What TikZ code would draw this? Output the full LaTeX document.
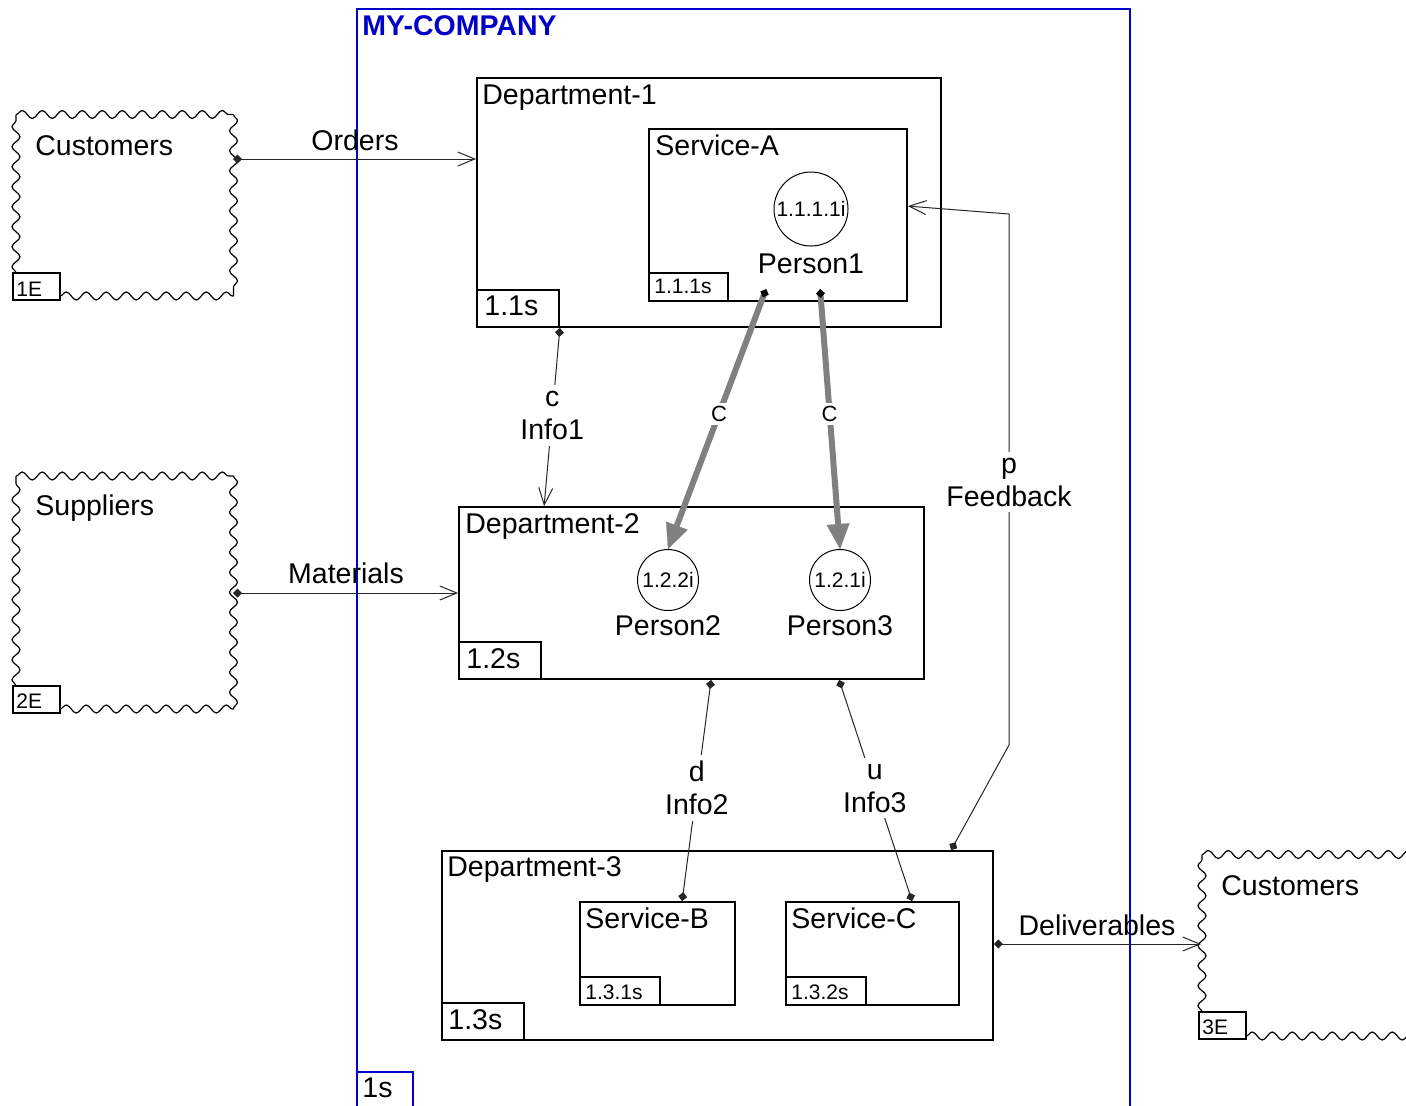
\documentclass[tikz,border=0pt]{standalone}
\usepackage{fontspec}
\setmainfont{Liberation Sans}
\usetikzlibrary{arrows.meta,decorations.pathmorphing,fit,calc}
\definecolor{frameblue}{RGB}{0,0,200}
\definecolor{flowgray}{RGB}{128,128,128}
\tikzset{
  srcdot/.tip={Diamond[length=4.5pt,width=4.5pt]},
  openhead/.tip={Straight Barb[length=8.5pt,width=7pt]},
  fathead/.tip={Triangle[length=12.5pt,width=11.5pt,line width=0.1pt]},
  blackdot/.tip={Diamond[length=4.5pt,width=4.5pt,color=black]},
}
\begin{document}
\begin{tikzpicture}[x=0.5pt,y=-0.5pt,
  big/.style={font=\fontsize{14.25pt}{16.5pt}\selectfont},
  small/.style={font=\fontsize{10.5pt}{12pt}\selectfont},
  txt/.style={big, inner sep=0pt, anchor=base west},
  stxt/.style={small, inner sep=0pt, anchor=base west},
  box/.style={draw=black, line width=0.9pt, inner sep=0pt},
  bluebox/.style={draw=frameblue, line width=0.9pt, inner sep=0pt},
  wavy/.style={draw=black, line width=0.6pt, decorate,
    decoration={snake, segment length=10pt, amplitude=2pt}},
  person/.style={circle, draw=black, line width=0.5pt, inner sep=0pt, small},
  flow/.style={draw=black!85, line width=0.5pt, srcdot-openhead},
  link/.style={draw=black!85, line width=0.5pt, srcdot-srcdot},
  heavy/.style={draw=flowgray, line width=3pt, blackdot-fathead},
  lbl/.style={big, fill=white, align=center, inner sep=3pt},
  clbl/.style={fill=white, inner sep=1.5pt, font=\fontsize{11pt}{13pt}\selectfont},
]
\useasboundingbox (0,0) rectangle (1406,1105);
\clip (0,0) rectangle (1406,1105);

% company frame
\node[bluebox, fit={(357,9) (1130,1110)}] (company) {};
\node[bluebox, fit={(357,1072) (413,1110)}] (t1) {};
\node[txt, font=\fontsize{14.25pt}{16.5pt}\selectfont\bfseries, text=frameblue] (company-t) at (362,35) {MY-COMPANY};
\node[txt] (t1-t) at (362,1097) {1s};

% external entities
\node[inner sep=0pt, fit={(16,114.5) (233.5,296)}] (cust1) {};
\draw[wavy] (16,273) -- (16,114.5);
\draw[wavy] (16,114.5) -- (233.5,114.5);
\draw[wavy] (233.5,114.5) -- (233.5,296);
\draw[wavy] (60,296) -- (233.5,296);
\node[box, line width=0.7pt, fit={(13,273) (60,300)}] (t1e) {};
\node[txt] (cust1-t) at (35,155) {Customers};
\node[stxt] (t1e-t) at (16,296) {1E};

\node[inner sep=0pt, fit={(16,476) (233.5,709)}] (supp) {};
\draw[wavy] (16,686) -- (16,476);
\draw[wavy] (16,476) -- (233.5,476);
\draw[wavy] (233.5,476) -- (233.5,709);
\draw[wavy] (60,709) -- (233.5,709);
\node[box, line width=0.7pt, fit={(13,686) (60,713)}] (t2e) {};
\node[txt] (supp-t) at (35,515) {Suppliers};
\node[stxt] (t2e-t) at (16,708) {2E};

\node[inner sep=0pt, fit={(1202,854.5) (1420,1036)}] (cust3) {};
\draw[wavy] (1202,1012) -- (1202,854.5);
\draw[wavy] (1202,854.5) -- (1420,854.5);
\draw[wavy] (1246,1036) -- (1420,1036);
\node[box, line width=0.7pt, fit={(1199,1012) (1246,1039)}] (t3e) {};
\node[txt] (cust3-t) at (1221,895) {Customers};
\node[stxt] (t3e-t) at (1202,1034) {3E};

% department 1
\node[box, fit={(477,78) (941,327)}] (dep1) {};
\node[txt] (dep1-t) at (482,104.5) {Department-1};
\node[box, fit={(477,290) (559,327)}] (t11) {};
\node[txt] (t11-t) at (484,315) {1.1s};
\node[box, fit={(649,129) (907,301)}] (sA) {};
\node[txt] (sA-t) at (655,155) {Service-A};
\node[box, line width=0.7pt, fit={(649,273) (728,301)}] (t111) {};
\node[stxt] (t111-t) at (654,293) {1.1.1s};
\node[person, minimum size=37pt] (p1) at (811,209) {1.1.1.1i};
\node[txt, anchor=base] (p1-t) at (811,273) {Person1};

% department 2
\node[box, fit={(459,507) (924,679)}] (dep2) {};
\node[txt] (dep2-t) at (465,533) {Department-2};
\node[box, fit={(459,642) (541,679)}] (t12) {};
\node[txt] (t12-t) at (466,668) {1.2s};
\node[person, minimum size=30.5pt] (p2) at (668,580) {1.2.2i};
\node[txt, anchor=base] (p2-t) at (668,635) {Person2};
\node[person, minimum size=30.5pt] (p3) at (840,580) {1.2.1i};
\node[txt, anchor=base] (p3-t) at (840,635) {Person3};

% department 3
\node[box, fit={(442,851) (993,1040)}] (dep3) {};
\node[txt] (dep3-t) at (447,876) {Department-3};
\node[box, fit={(442,1003) (524,1040)}] (t13) {};
\node[txt] (t13-t) at (448,1029) {1.3s};
\node[box, fit={(580,902) (735,1005)}] (sB) {};
\node[txt] (sB-t) at (585,928) {Service-B};
\node[box, line width=0.7pt, fit={(580,977) (660,1005)}] (t131) {};
\node[stxt] (t131-t) at (585,999) {1.3.1s};
\node[box, fit={(786,902) (959,1005)}] (sC) {};
\node[txt] (sC-t) at (791,928) {Service-C};
\node[box, line width=0.7pt, fit={(786,977) (866,1005)}] (t132) {};
\node[stxt] (t132-t) at (791,999) {1.3.2s};

% connector end points
\coordinate (ord-s) at (233,159);
\coordinate (mat-s) at (233,593);
\coordinate (del-e) at (1201,944);
\coordinate (i1e) at ($(dep2.north west)+(86,0)$);
\coordinate (i2s) at ($(dep2.south west)+(253,0)$);
\coordinate (i2e) at ($(sB.north west)+(103,0)$);
\coordinate (i3s) at ($(dep2.south west)+(381,0)$);
\coordinate (i3e) at ($(sC.north west)+(127,0)$);
\coordinate (fb-s) at ($(dep3.north west)+(510,0)$);
\coordinate (fb-e) at ($(sA.north east)+(0,78)$);
\coordinate (fb1) at (1009,745);
\coordinate (fb2) at (1009,214);
\coordinate (p1a) at ($(sA.south west)+(118,-13)$);
\coordinate (p1b) at ($(sA.south west)+(172,-13)$);

% flows
\draw[flow] (ord-s) -- (dep1.west |- ord-s);
\node[txt, anchor=base] (ord-t) at (355,150) {Orders};
\draw[flow] (mat-s) -- (dep2.west |- mat-s);
\node[txt, anchor=base] (mat-t) at (346,583) {Materials};
\draw[flow] (dep3.east |- del-e) -- (del-e);
\node[txt, anchor=base] (del-t) at (1097,935) {Deliverables};

\draw[flow] (t11.south east) -- node[pos=0.49, lbl] (i1-t) {c\\Info1} (i1e);
\draw[link] (i2s) -- node[pos=0.49, lbl] (i2-t) {d\\Info2} (i2e);
\draw[link] (i3s) -- node[pos=0.49, lbl] (i3-t) {u\\Info3} (i3e);
\draw[flow] (fb-s) -- (fb1) -- node[pos=0.495, lbl] (fb-t) {p\\Feedback} (fb2) -- (fb-e);

\draw[heavy] (p1a) -- node[pos=0.48, clbl] (c1-t) {C} (p2.north);
\draw[heavy] (p1b) -- node[pos=0.48, clbl] (c2-t) {C} (p3.north);
\end{tikzpicture}
\end{document}
